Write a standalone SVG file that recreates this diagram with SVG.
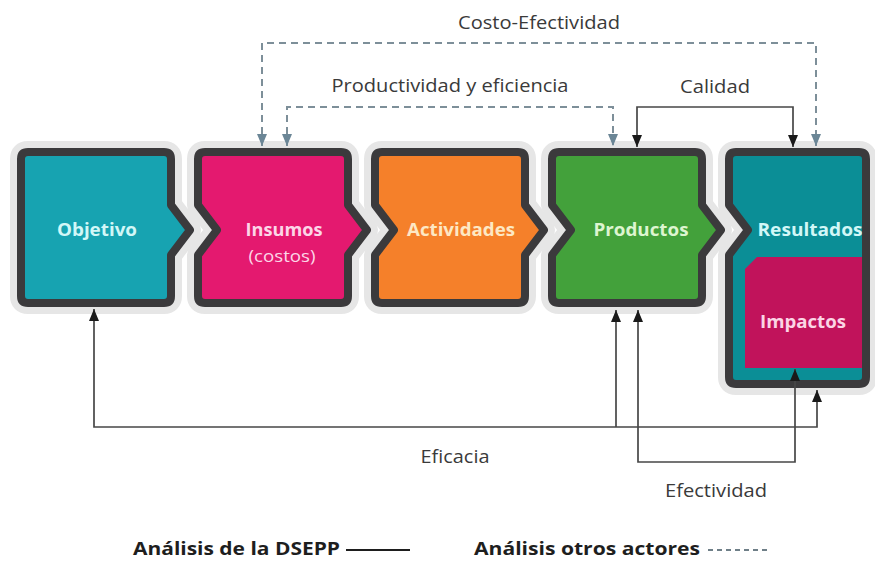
<svg xmlns="http://www.w3.org/2000/svg" width="875" height="566" viewBox="0 0 875 566">
<defs>
<style>
.halo{fill:none;stroke:#e6e6e6;stroke-width:22;stroke-linejoin:round}
.box{stroke:#3b3a3c;stroke-width:8;stroke-linejoin:round}
.lbl{font-family:"Open Sans","Noto Sans",sans-serif;font-weight:700;font-size:18px;text-anchor:middle}
.sub{font-family:"Open Sans","Noto Sans",sans-serif;font-weight:400;font-size:16px;text-anchor:middle}
.txt{font-family:"Open Sans","Noto Sans",sans-serif;font-size:18px;fill:#3a3a3a;text-anchor:middle}
.leg{font-family:"Open Sans","Noto Sans",sans-serif;font-weight:700;font-size:18px;fill:#1e1e1e}
.sol{fill:none;stroke:#474747;stroke-width:1.7}
.dash{fill:none;stroke:#7d8f99;stroke-width:2;stroke-dasharray:7 5}
</style>
<marker id="ab" viewBox="0 0 12 10" refX="12" refY="5" markerWidth="12" markerHeight="10" markerUnits="userSpaceOnUse" orient="auto-start-reverse"><path d="M0,0 L12,5 L0,10 z" fill="#1a1a1a"/></marker>
<marker id="ag" viewBox="0 0 12 10" refX="12" refY="5" markerWidth="12" markerHeight="10" markerUnits="userSpaceOnUse" orient="auto-start-reverse"><path d="M0,0 L12,5 L0,10 z" fill="#6b8696"/></marker>
</defs>
<rect width="875" height="566" fill="#ffffff"/>

<g id="objetivo">
<path class="halo" d="M 28 152 H 164 Q 171 152 171 159 V 205 L 190 230 L 171 255 V 296 Q 171 303 164 303 H 28 Q 21 303 21 296 V 159 Q 21 152 28 152 Z"/>
<path class="box" fill="#17a3b1" d="M 28 152 H 164 Q 171 152 171 159 V 205 L 190 230 L 171 255 V 296 Q 171 303 164 303 H 28 Q 21 303 21 296 V 159 Q 21 152 28 152 Z"/>
<text class="lbl" x="97" y="236" fill="#d2f7f7" textLength="80" lengthAdjust="spacingAndGlyphs">Objetivo</text>
</g>

<g id="insumos">
<path class="halo" d="M 205 152 H 341 Q 348 152 348 159 V 205 L 367 230 L 348 255 V 296 Q 348 303 341 303 H 205 Q 198 303 198 296 V 255 L 217 230 L 198 205 V 159 Q 198 152 205 152 Z"/>
<path class="box" fill="#e4196f" d="M 205 152 H 341 Q 348 152 348 159 V 205 L 367 230 L 348 255 V 296 Q 348 303 341 303 H 205 Q 198 303 198 296 V 255 L 217 230 L 198 205 V 159 Q 198 152 205 152 Z"/>
<text class="lbl" x="284" y="236" fill="#fcd6e7" textLength="77" lengthAdjust="spacingAndGlyphs">Insumos</text>
<text class="sub" x="282" y="262" fill="#fcd6e7" textLength="67" lengthAdjust="spacingAndGlyphs">(costos)</text>
</g>

<g id="actividades">
<path class="halo" d="M 382 152 H 518 Q 525 152 525 159 V 205 L 544 230 L 525 255 V 296 Q 525 303 518 303 H 382 Q 375 303 375 296 V 255 L 394 230 L 375 205 V 159 Q 375 152 382 152 Z"/>
<path class="box" fill="#f5802a" d="M 382 152 H 518 Q 525 152 525 159 V 205 L 544 230 L 525 255 V 296 Q 525 303 518 303 H 382 Q 375 303 375 296 V 255 L 394 230 L 375 205 V 159 Q 375 152 382 152 Z"/>
<text class="lbl" x="461" y="236" fill="#fde8c4" textLength="108" lengthAdjust="spacingAndGlyphs">Actividades</text>
</g>

<g id="productos">
<path class="halo" d="M 559 152 H 695 Q 702 152 702 159 V 205 L 721 230 L 702 255 V 296 Q 702 303 695 303 H 559 Q 552 303 552 296 V 255 L 571 230 L 552 205 V 159 Q 552 152 559 152 Z"/>
<path class="box" fill="#43a13b" d="M 559 152 H 695 Q 702 152 702 159 V 205 L 721 230 L 702 255 V 296 Q 702 303 695 303 H 559 Q 552 303 552 296 V 255 L 571 230 L 552 205 V 159 Q 552 152 559 152 Z"/>
<text class="lbl" x="641" y="236" fill="#ddf5d0" textLength="95" lengthAdjust="spacingAndGlyphs">Productos</text>
</g>

<g id="resultados">
<path class="halo" d="M 736 152 H 859 Q 866 152 866 159 V 377 Q 866 384 859 384 H 736 Q 729 384 729 377 V 255 L 748 230 L 729 205 V 159 Q 729 152 736 152 Z"/>
<path class="box" fill="#0b8e96" d="M 736 152 H 859 Q 866 152 866 159 V 377 Q 866 384 859 384 H 736 Q 729 384 729 377 V 255 L 748 230 L 729 205 V 159 Q 729 152 736 152 Z"/>
<text class="lbl" x="810" y="236" fill="#d2f7f7" textLength="105" lengthAdjust="spacingAndGlyphs">Resultados</text>
</g>

<g id="impactos">
<path fill="#c1135b" d="M 757 257 H 862 V 368 H 745 V 269 Z"/>
<text class="lbl" x="803" y="328" fill="#fbd5e5" textLength="86" lengthAdjust="spacingAndGlyphs">Impactos</text>
</g>

<g id="connectors">
<path class="dash" d="M 262 146 V 43 H 816 V 146" marker-start="url(#ag)" marker-end="url(#ag)"/>
<path class="dash" d="M 287 146 V 107 H 613 V 146" marker-start="url(#ag)" marker-end="url(#ag)"/>
<path class="sol" d="M 637 147 V 107 H 793 V 147" marker-start="url(#ab)" marker-end="url(#ab)"/>
<path class="sol" d="M 94 309 V 427 H 817 V 390" marker-start="url(#ab)" marker-end="url(#ab)"/>
<path class="sol" d="M 616 427 V 310" marker-end="url(#ab)"/>
<path class="sol" d="M 638 310 V 462 H 795 V 369" marker-start="url(#ab)" marker-end="url(#ab)"/>
</g>

<g id="labels">
<text class="txt" x="539" y="29" textLength="162" lengthAdjust="spacingAndGlyphs">Costo-Efectividad</text>
<text class="txt" x="450" y="92" textLength="237" lengthAdjust="spacingAndGlyphs">Productividad y eficiencia</text>
<text class="txt" x="715" y="93" textLength="70" lengthAdjust="spacingAndGlyphs">Calidad</text>
<text class="txt" x="455" y="463" textLength="69" lengthAdjust="spacingAndGlyphs">Eficacia</text>
<text class="txt" x="716" y="497" textLength="102" lengthAdjust="spacingAndGlyphs">Efectividad</text>
</g>

<g id="legend">
<text class="leg" x="133" y="555" textLength="207" lengthAdjust="spacingAndGlyphs">Análisis de la DSEPP</text>
<line x1="346" y1="550" x2="410" y2="550" stroke="#1e1e1e" stroke-width="1.8"/>
<text class="leg" x="474" y="555" textLength="226" lengthAdjust="spacingAndGlyphs">Análisis otros actores</text>
<line x1="708" y1="550" x2="768" y2="550" stroke="#6f7f88" stroke-width="1.8" stroke-dasharray="5 4"/>
</g>
</svg>
